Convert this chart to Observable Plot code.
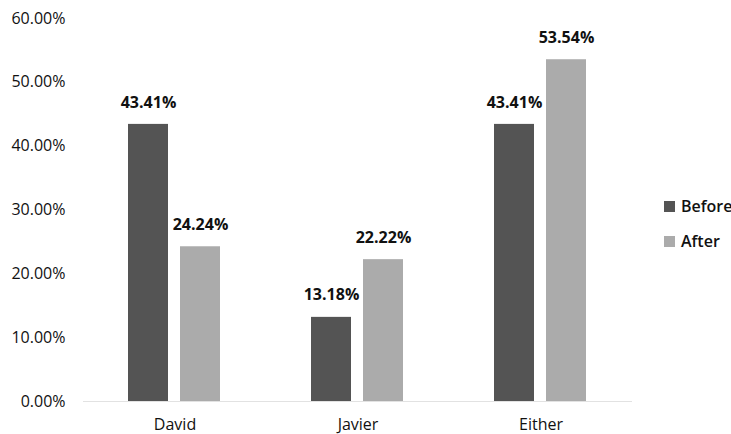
<!DOCTYPE html>
<html>
<head>
<meta charset="utf-8">
<script src="https://cdn.jsdelivr.net/npm/d3@7"></script>
<script src="https://cdn.jsdelivr.net/npm/@observablehq/plot@0.6"></script>
<style>
  html, body { margin: 0; padding: 0; background: #fff; }
  #wrap { position: relative; width: 731px; height: 434px; font-family: "Open Sans", sans-serif; }
  .legend { position: absolute; left: 664px; font-size: 16px; font-weight: 600; color: #111; display: flex; align-items: center; }
  .legend span.sw { display: inline-block; width: 11px; height: 11px; margin-right: 6px; }
</style>
</head>
<body>
<div id="wrap"></div>
<script>
const categories = ["David", "Javier", "Either"];
const seriesNames = ["Before", "After"];
const beforeValues = [0.4341, 0.1318, 0.4341];
const afterValues = [0.2424, 0.2222, 0.5354];
const yTicks = [0, 0.1, 0.2, 0.3, 0.4, 0.5, 0.6];
const colors = ["#545454", "#ababab"];

const data = [];
categories.forEach((c, i) => {
  data.push({category: c, series: "Before", value: beforeValues[i]});
  data.push({category: c, series: "After", value: afterValues[i]});
});
const pct = v => (v * 100).toFixed(2) + "%";

const chart = Plot.plot({
  width: 731,
  height: 434,
  marginLeft: 83,
  marginRight: 99,
  marginTop: 18,
  marginBottom: 33,
  style: {fontFamily: "Open Sans, sans-serif", fontSize: "16px", color: "#111", background: "#fff"},
  fx: {domain: categories, padding: 0, label: null, tickSize: 0, tickPadding: 17},
  x: {domain: seriesNames, paddingInner: 0.226, paddingOuter: 0.84, axis: null},
  y: {domain: [0, 0.6], ticks: yTicks, tickFormat: pct, tickSize: 0, tickPadding: 18, label: null},
  color: {domain: seriesNames, range: colors},
  marks: [
    Plot.ruleY([0], {stroke: "#e2e2e2", strokeWidth: 1}),
    Plot.barY(data, {fx: "category", x: "series", y: "value", fill: "series"}),
    Plot.text(data, {fx: "category", x: "series", y: "value", text: d => pct(d.value), dy: -22, fontWeight: "bold", fontSize: 16, fill: "#111"})
  ]
});
const wrap = document.getElementById("wrap");
wrap.appendChild(chart);

const legendTops = [195, 230];
seriesNames.forEach((s, i) => {
  const div = document.createElement("div");
  div.className = "legend";
  div.style.top = legendTops[i] + "px";
  const sw = document.createElement("span");
  sw.className = "sw";
  sw.style.background = colors[i];
  div.appendChild(sw);
  div.appendChild(document.createTextNode(s));
  wrap.appendChild(div);
});
</script>
</body>
</html>
